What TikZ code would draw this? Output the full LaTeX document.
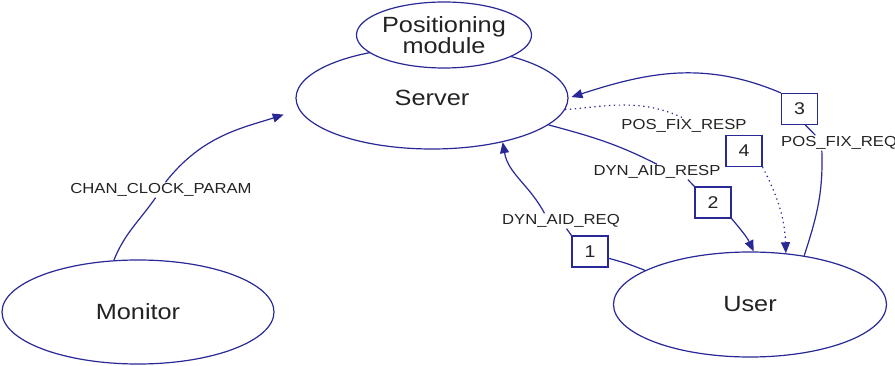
\documentclass[tikz,border=0pt]{standalone}
\usepackage{fontspec}
\setmainfont{Liberation Sans}[FakeStretch=1.15]
\usetikzlibrary{shapes.geometric}
\usetikzlibrary{arrows.meta}
\definecolor{linkblue}{RGB}{40,40,150}
\definecolor{inkgray}{RGB}{35,35,35}

\begin{document}
\begin{tikzpicture}[x=1pt,y=1pt,
  entity/.style={ellipse, draw=linkblue, line width=1.2pt, fill=white, inner sep=0pt,
    text=inkgray, font=\fontsize{22}{19}\selectfont},
  msg/.style={fill=white, inner sep=1pt, text=inkgray, font=\fontsize{14.5}{16}\selectfont},
  numbox/.style={draw=linkblue, line width=1.2pt, fill=white, minimum width=36pt,
    minimum height=31pt, inner sep=0pt, text=inkgray, font=\fontsize{17}{19}\selectfont},
  flow/.style={draw=linkblue, line width=1.2pt},
  arr/.style={flow, -{Triangle[length=11pt,width=9pt]}},
  dots/.style={dash pattern=on 1.3pt off 3.6pt}]
\useasboundingbox (0,0) rectangle (895,365);
% Entities
\node[entity, minimum width=272pt, minimum height=102pt] (server) at (432,267) {Server};
\node[entity, minimum width=165pt, minimum height=66pt, align=center] (posmod) at (444,330) {Positioning\\module};
\node[entity, minimum width=272pt, minimum height=104pt] (monitor) at (138,53) {Monitor};
\node[entity, minimum width=273pt, minimum height=105pt] (user) at (750,60.5) {User};
% Message names
\node[msg] (lclock) at (161,175) {CHAN\_CLOCK\_PARAM};
\node[msg] (lreq) at (561,144) {DYN\_AID\_REQ};
\node[msg] (lresp) at (657,193) {DYN\_AID\_RESP};
\node[msg] (lfixresp) at (684,239) {POS\_FIX\_RESP};
\node[msg, anchor=west] (lfixreq) at (780,222) {POS\_FIX\_REQ};
% Step numbers
\node[numbox] (b1) at (590,113.5) {1};
\node[numbox] (b2) at (713,162.5) {2};
\node[numbox] (b3) at (799.5,256) {3};
\node[numbox] (b4) at (744,214) {4};
% Monitor to server
\draw[flow] (monitor.115) to[out=68,in=-125] (lclock);
\draw[arr, shorten >=16pt] (lclock.60) to[out=52,in=198] (server.185);
% Step 1
\draw[flow] (user.162) to[out=158,in=-15] (b1.-20);
\draw[flow] (b1.north west) -- (lreq);
\draw[arr] (lreq.155) to[out=118,in=-80] (server.328);
% Step 2
\draw[flow] (server.347) to[out=-15,in=153] (lresp.north);
\draw[flow] (lresp.-14) -- (b2.north west);
\draw[arr] (b2.south east) to[out=-50,in=115] (user.86);
% Step 3
\draw[flow] (user.42) to[out=72,in=-88] (lfixreq.-156);
\draw[flow] (b3.-70) -- (lfixreq.162);
\draw[arr, shorten >=3pt] (b3.north west) to[out=157,in=18] (server.0);
% Step 4
\draw[flow, dots] (server.-5) to[out=5,in=155] (lfixresp.north);
\draw[arr, dots] (b4.south east) to[out=-63,in=92] (user.55);
\end{tikzpicture}
\end{document}
